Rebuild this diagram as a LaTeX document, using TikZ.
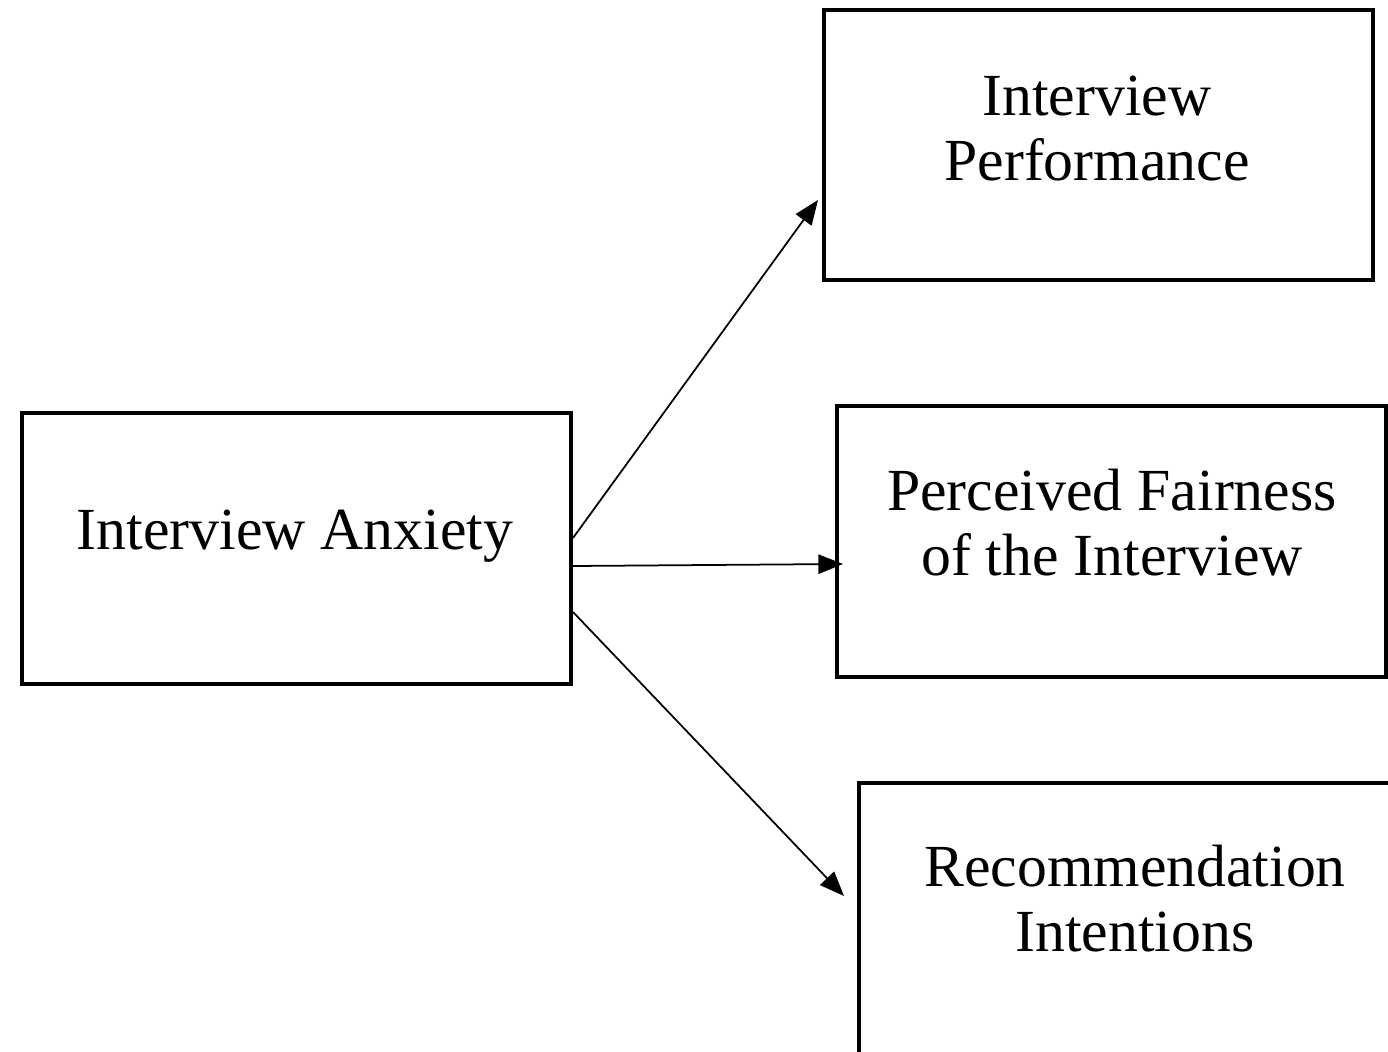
\documentclass[tikz,border=0pt]{standalone}
\usepackage{fontspec}
\setmainfont{Liberation Serif}
\usetikzlibrary{arrows.meta,fit}
\begin{document}
\begin{tikzpicture}[x=0.02cm,y=-0.02cm,
  box/.style={draw,line width=2pt,inner sep=0pt},
  lbl/.style={font=\fontsize{34}{36.5}\selectfont,align=center,anchor=base},
  arr/.style={line width=1pt,-{Triangle[length=14pt,width=11pt]}}]
\useasboundingbox (0,0) rectangle (1388,1051);
\clip (0,0) rectangle (1388,1051);
\fill[white] (0,0) rectangle (1388,1051);
\node[box,fit={(22,413) (571,684)}] (anx) {};
\node[box,fit={(824,10) (1373,280)}] (perf) {};
\node[box,fit={(837,406) (1386,677)}] (fair) {};
\node[box,fit={(859,783) (1420,1080)}] (rec) {};
\node[lbl] (anxt) at (295,549) {Interview Anxiety};
\node[lbl] (perft) at (1097,180) {Interview\\Performance};
\node[lbl] (fairt) at (1112,575) {Perceived Fairness\\of the Interview};
\node[lbl] (rect) at (1135,951) {Recommendation\\Intentions};
\coordinate (s1) at (573,538);
\coordinate (s2) at (573,566);
\coordinate (s3) at (573,612);
\coordinate (e1) at (818,200);
\coordinate (e2) at (843,564);
\coordinate (e3) at (844,896);
\draw[arr] (s1) -- (e1);
\draw[arr] (s2) -- (e2);
\draw[arr] (s3) -- (e3);
\end{tikzpicture}
\end{document}
